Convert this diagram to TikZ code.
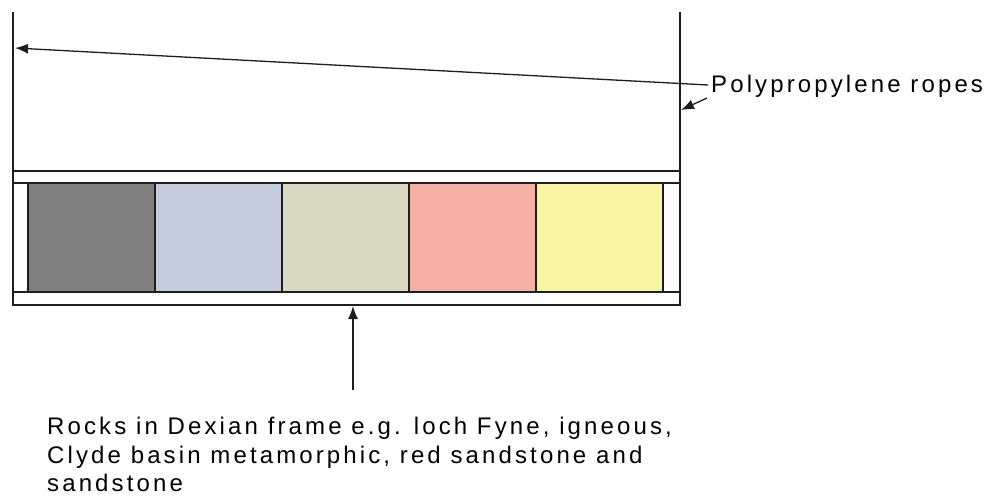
\documentclass[tikz,border=0pt]{standalone}
\usepackage{fontspec}
\setmainfont{Liberation Sans}[LetterSpace=13]
\usetikzlibrary{arrows.meta}
\definecolor{rockgray}{RGB}{128,128,128}
\definecolor{rockblue}{RGB}{197,204,219}
\definecolor{rockbeige}{RGB}{217,217,196}
\definecolor{rocksalmon}{RGB}{245,176,166}
\definecolor{rockyellow}{RGB}{248,245,164}
\definecolor{linecol}{RGB}{30,30,30}
\tikzset{
  frameline/.style={draw=linecol, line width=1.6pt},
  rockbox/.style={draw=linecol, line width=1.6pt},
  pointer/.style={draw=linecol, line width=1.3pt, -{Latex[length=13pt,width=10pt]}},
  label/.style={inner sep=0pt, anchor=base west, font=\fontsize{24pt}{28pt}\selectfont, text=black}
}
\begin{document}
\begin{tikzpicture}[x=1pt,y=-1pt]
\useasboundingbox[fill=white] (0,0) rectangle (987,499);
% ropes
\coordinate (ltop) at (13,12);
\coordinate (rtop) at (680,12);
\coordinate (lbot) at (13,171);
\coordinate (rbot) at (680,171);
\draw[frameline] (ltop) -- (lbot);
\draw[frameline] (rtop) -- (rbot);
% frame
\draw[frameline] (13,171) rectangle (680,305);
\draw[frameline, line width=2.2pt] (13,183) -- (680,183);
\draw[frameline] (13,292) -- (680,292);
\draw[rockbox, fill=white] (13,183) rectangle (28,292);
\draw[rockbox, fill=rockgray] (28,183) rectangle (155,292);
\draw[rockbox, fill=rockblue] (155,183) rectangle (282,292);
\draw[rockbox, fill=rockbeige] (282,183) rectangle (409,292);
\draw[rockbox, fill=rocksalmon] (409,183) rectangle (536,292);
\draw[rockbox, fill=rockyellow] (536,183) rectangle (663,292);
\draw[rockbox, fill=white] (663,183) rectangle (680,292);
% labels
\node[label] (ropes) at (711,92) {Polypropylene ropes};
\node[label] (rocks1) at (47,434) {Rocks in Dexian frame e.g. loch Fyne, igneous,};
\node[label] (rocks2) at (47,463) {Clyde basin metamorphic, red sandstone and};
\node[label] (rocks3) at (47,491) {sandstone};
% pointers
\coordinate (ropeA) at (708,85);
\coordinate (ropeAend) at (15,48);
\coordinate (ropeB) at (707,98);
\coordinate (ropeBend) at (681,110);
\coordinate (rockstart) at (353,390);
\coordinate (rockend) at (353,306);
\draw[pointer] (ropeA) -- (ropeAend);
\draw[pointer] (ropeB) -- (ropeBend);
\draw[pointer] (rockstart) -- (rockend);
\end{tikzpicture}
\end{document}
